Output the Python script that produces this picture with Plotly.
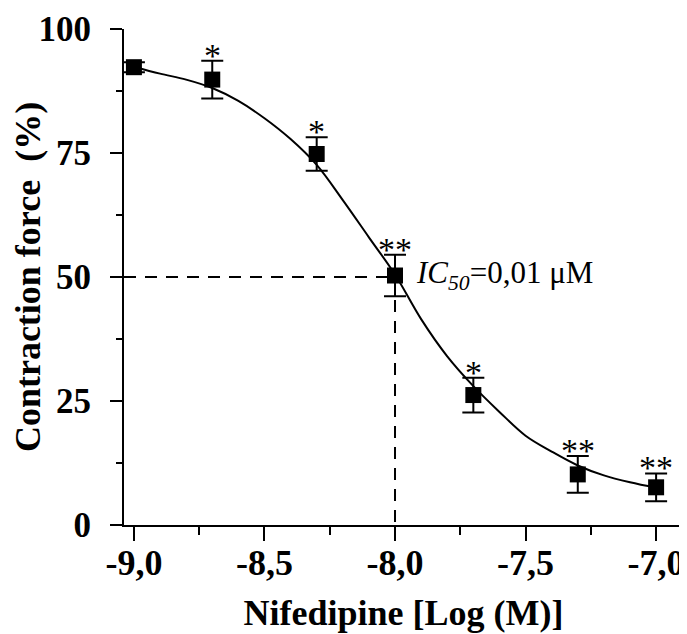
import plotly.graph_objects as go

# ---- data ----
log_conc = [-9.0, -8.7, -8.3, -8.0, -7.7, -7.3, -7.0]
force = [92.3, 89.8, 74.8, 50.3, 26.2, 10.2, 7.6]
force_err = [1.0, 3.8, 3.4, 4.2, 3.5, 3.7, 2.8]
signif = ["", "*", "*", "**", "*", "**", "**"]

fit_x = [-9.0, -8.9, -8.8, -8.7, -8.6, -8.5, -8.4, -8.3, -8.2, -8.1, -8.0,
         -7.9, -7.8, -7.7, -7.6, -7.5, -7.4, -7.3, -7.2, -7.1, -7.0]
fit_y = [92.4, 91.0, 89.8, 88.1, 85.5, 82.0, 77.8, 72.6, 65.5, 58.0, 50.5,
         41.5, 34.0, 28.0, 22.8, 18.0, 14.8, 12.0, 10.0, 8.6, 7.5]

x_tickvals = [-9.0, -8.5, -8.0, -7.5, -7.0]
x_ticktext = ["-9,0", "-8,5", "-8,0", "-7,5", "-7,0"]
y_tickvals = [0, 25, 50, 75, 100]
y_ticktext = ["0", "25", "50", "75", "100"]

ic50_log = -8.0
ic50_pct = 50
ic50_label = "<i>IC</i><sub><i>50</i></sub>=0,01 μM"

x_range = [-9.038, -6.897]
y_range = [0, 100]

FONT = "Liberation Serif"

fig = go.Figure()

# dashed IC50 guide lines
fig.add_trace(go.Scatter(
    x=[x_range[0], ic50_log, ic50_log], y=[ic50_pct, ic50_pct, y_range[0]],
    mode="lines", line=dict(color="black", width=2, dash="12px,9px"),
    hoverinfo="skip", showlegend=False, cliponaxis=False))

# fitted curve
fig.add_trace(go.Scatter(
    x=fit_x, y=fit_y, mode="lines",
    line=dict(color="black", width=2, shape="spline", smoothing=1.0),
    showlegend=False, cliponaxis=False))

# data points with error bars
fig.add_trace(go.Scatter(
    x=log_conc, y=force, mode="markers",
    marker=dict(symbol="square", size=16, color="black"),
    error_y=dict(type="data", array=force_err, color="black", thickness=2, width=11),
    showlegend=False, cliponaxis=False))

# significance asterisks
for xv, yv, ev, s in zip(log_conc, force, force_err, signif):
    if s:
        fig.add_annotation(x=xv, y=yv + ev, text=s, showarrow=False,
                           xanchor="center", yanchor="bottom", yshift=-15,
                           font=dict(family=FONT, size=34, color="black"))

fig.add_annotation(x=ic50_log, y=ic50_pct, text=ic50_label, showarrow=False,
                   xanchor="left", yanchor="middle", xshift=19, yshift=2,
                   font=dict(family=FONT, size=31, color="black"))

# the page body adds an 8px offset, so margins are reduced by 8px on the left/top
fig.update_layout(
    width=687, height=634,
    margin=dict(l=116, r=12, t=21, b=117),
    paper_bgcolor="white", plot_bgcolor="white",
    font=dict(family=FONT, color="black"),
    xaxis=dict(
        range=x_range, showgrid=False, zeroline=False, automargin=False,
        showline=True, linecolor="black", linewidth=2,
        ticks="outside", ticklen=14, tickwidth=2, tickcolor="black",
        tickvals=x_tickvals, ticktext=x_ticktext, ticklabelstandoff=-9,
        tickfont=dict(family=FONT, size=36, weight="bold", color="black"),
        minor=dict(dtick=0.25, tick0=-9.0, ticks="outside", ticklen=8, tickwidth=2,
                   tickcolor="black", showgrid=False),
        title=dict(text="Nifedipine [Log (M)]", standoff=18,
                   font=dict(family=FONT, size=36, weight="bold", color="black")),
    ),
    yaxis=dict(
        range=y_range, showgrid=False, zeroline=False, automargin=False,
        showline=True, linecolor="black", linewidth=2,
        ticks="outside", ticklen=12, tickwidth=2, tickcolor="black",
        tickvals=y_tickvals, ticktext=y_ticktext, ticklabelstandoff=12,
        tickfont=dict(family=FONT, size=35, weight="bold", color="black"),
        minor=dict(dtick=12.5, tick0=0, ticks="outside", ticklen=6, tickwidth=2,
                   tickcolor="black", showgrid=False),
        title=dict(text="Contraction force  (%)", standoff=1,
                   font=dict(family=FONT, size=36, weight="bold", color="black")),
    ),
)

fig.write_html("out.html")
